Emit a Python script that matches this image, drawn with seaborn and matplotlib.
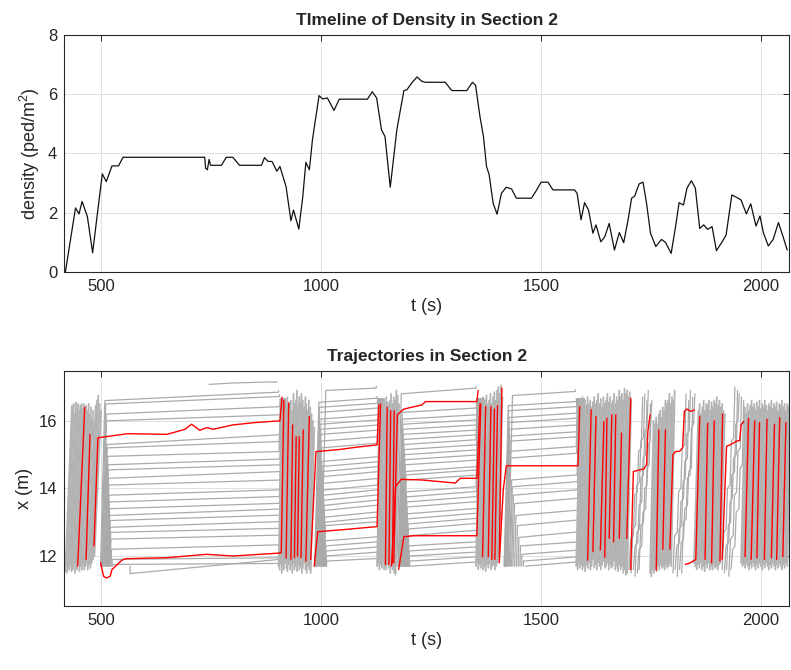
import matplotlib
matplotlib.use('Agg')
import matplotlib.pyplot as plt
import pandas as pd
import seaborn as sns

# ---- density timeline (section 2) ----
dens_t = [418, 441, 449, 456, 468, 480, 490, 502, 511, 524,
          539, 549, 735, 737, 741, 745, 748, 773, 784, 799,
          814, 864, 871, 879, 888, 899, 906, 920, 931, 937,
          949, 958, 965, 973, 980, 995, 1003, 1014, 1029, 1041,
          1105, 1116, 1126, 1137, 1145, 1157, 1172, 1188, 1195, 1207,
          1218, 1229, 1237, 1282, 1297, 1331, 1344, 1351, 1361, 1369,
          1376, 1382, 1391, 1400, 1410, 1421, 1433, 1444, 1478, 1489,
          1500, 1516, 1527, 1576, 1582, 1591, 1599, 1608, 1618, 1625,
          1636, 1645, 1655, 1667, 1678, 1688, 1698, 1706, 1713, 1723,
          1732, 1740, 1749, 1761, 1774, 1783, 1796, 1806, 1814, 1824,
          1832, 1842, 1851, 1861, 1870, 1879, 1889, 1899, 1912, 1921,
          1934, 1946, 1955, 1967, 1977, 1989, 1998, 2006, 2017, 2028,
          2040, 2051, 2060]
dens_v = [0.0, 2.16, 1.96, 2.38, 1.87, 0.65, 1.87, 3.31, 3.05, 3.58,
          3.58, 3.87, 3.87, 3.5, 3.45, 3.8, 3.6, 3.6, 3.87, 3.87,
          3.6, 3.6, 3.86, 3.73, 3.73, 3.4, 3.56, 2.88, 1.73, 2.09,
          1.45, 2.54, 3.7, 3.45, 4.46, 5.95, 5.84, 5.87, 5.45, 5.83,
          5.83, 6.08, 5.87, 4.8, 4.57, 2.86, 4.8, 6.12, 6.15, 6.4,
          6.58, 6.43, 6.4, 6.4, 6.12, 6.12, 6.4, 6.3, 5.25, 4.57,
          3.56, 3.28, 2.32, 1.95, 2.66, 2.86, 2.8, 2.49, 2.49, 2.74,
          3.03, 3.03, 2.77, 2.77, 2.66, 1.76, 2.34, 2.09, 1.31, 1.59,
          1.02, 1.19, 1.64, 0.74, 1.33, 0.99, 1.76, 2.49, 2.56, 2.97,
          3.03, 2.32, 1.31, 0.86, 1.1, 1.0, 0.63, 1.53, 2.34, 2.26,
          2.83, 3.08, 2.83, 1.47, 1.59, 1.44, 1.53, 0.72, 1.02, 1.25,
          2.6, 2.51, 2.43, 1.96, 2.3, 1.55, 1.89, 1.31, 0.88, 1.1,
          1.67, 1.17, 0.74]

# ---- trajectories ----
# pedestrians walking straight through: (t_in, x_bottom, x_top)
burst1 = [(418, 11.55, 16.45), (420, 11.7, 16.3), (422, 11.5, 16.5), (425, 11.65, 16.2),
          (427, 11.6, 16.55), (430, 11.75, 16.4), (432, 11.55, 16.5), (435, 11.6, 16.3),
          (437, 11.7, 16.45), (440, 11.5, 16.5), (442, 11.65, 16.35), (445, 11.6, 16.5),
          (448, 11.8, 16.4), (450, 11.55, 16.45), (453, 11.7, 16.3), (456, 11.6, 16.5),
          (458, 11.75, 16.2), (461, 11.6, 16.4), (464, 11.7, 16.1), (466, 11.8, 16.3),
          (469, 11.6, 16.0), (472, 11.75, 16.45), (475, 11.65, 16.6), (478, 11.8, 16.75),
          (481, 11.9, 16.5), (484, 12.0, 16.3)]
burst2 = [(903, 11.7, 16.5), (905, 11.6, 16.4), (908, 11.8, 16.6), (910, 11.5, 16.3),
          (913, 11.7, 16.5), (915, 11.6, 16.7), (918, 11.8, 16.4), (921, 11.65, 16.55),
          (923, 11.55, 16.6), (926, 11.75, 16.3), (929, 11.6, 16.8), (931, 11.7, 16.5),
          (934, 11.5, 16.6), (937, 11.8, 16.9), (939, 11.6, 16.45), (942, 11.7, 16.7),
          (945, 11.55, 16.5), (947, 11.75, 16.8), (950, 11.6, 16.6), (953, 11.7, 16.4),
          (956, 11.5, 16.7), (958, 11.65, 16.5), (961, 11.8, 16.3), (964, 11.6, 16.6),
          (967, 11.5, 16.4), (970, 11.7, 16.2), (973, 11.6, 16.0), (976, 11.5, 15.8)]
burst3 = [(1127, 11.7, 16.5), (1130, 11.8, 16.6), (1132, 11.6, 16.4), (1135, 11.75, 16.65),
          (1138, 11.65, 16.5), (1140, 11.8, 16.7), (1143, 11.6, 16.55), (1146, 11.7, 16.45),
          (1148, 11.6, 16.6), (1151, 11.75, 16.8), (1154, 11.65, 16.5), (1157, 11.5, 16.7),
          (1160, 11.7, 16.6), (1163, 11.6, 16.9), (1166, 11.5, 16.75), (1169, 11.45, 16.5)]
burst4 = [(1352, 11.7, 16.5), (1355, 11.8, 16.6), (1357, 11.6, 16.45), (1360, 11.75, 16.7),
          (1363, 11.65, 16.5), (1365, 11.8, 16.6), (1368, 11.6, 16.75), (1371, 11.7, 16.5),
          (1374, 11.55, 16.6), (1377, 11.75, 16.8), (1380, 11.65, 16.5), (1383, 11.8, 16.7),
          (1386, 11.6, 16.85), (1389, 11.7, 16.6), (1392, 11.75, 16.9), (1395, 11.6, 17.0),
          (1398, 11.7, 16.8), (1401, 11.8, 17.05), (1404, 11.9, 16.7)]
burst5 = [(1580, 11.7, 16.6), (1583, 11.6, 16.4), (1585, 11.8, 16.7), (1588, 11.65, 16.5),
          (1591, 11.75, 16.6), (1594, 11.6, 16.45), (1597, 11.7, 16.7), (1600, 11.55, 16.5),
          (1603, 11.75, 16.6), (1606, 11.65, 16.4), (1609, 11.8, 16.55), (1612, 11.6, 16.7),
          (1615, 11.7, 16.5), (1618, 11.9, 16.6), (1621, 11.65, 16.8), (1624, 11.75, 16.5),
          (1627, 11.6, 16.65), (1630, 11.8, 16.4), (1633, 11.7, 16.7), (1636, 11.6, 16.5),
          (1639, 11.75, 16.6), (1642, 11.85, 16.8), (1645, 11.65, 16.55), (1648, 11.7, 16.7),
          (1651, 11.8, 16.5), (1654, 11.6, 16.6), (1657, 11.75, 16.8), (1660, 11.65, 16.5),
          (1663, 11.7, 16.7), (1666, 11.85, 16.6), (1669, 11.6, 16.9), (1672, 11.7, 16.7),
          (1675, 11.55, 16.8), (1678, 11.75, 16.6), (1681, 11.6, 16.95), (1684, 11.7, 16.8),
          (1687, 11.5, 16.9), (1690, 11.6, 16.7), (1693, 11.45, 16.85), (1696, 11.5, 16.6)]
burst6 = [(1748, 11.5, 16.0), (1751, 11.4, 15.9), (1754, 11.6, 16.1), (1757, 11.5, 15.9),
          (1760, 11.65, 16.2), (1763, 11.55, 16.3), (1766, 11.7, 16.1), (1769, 11.6, 16.4),
          (1772, 11.75, 16.3), (1775, 11.65, 16.6), (1778, 11.7, 16.5), (1781, 11.6, 16.6),
          (1784, 11.75, 16.8), (1787, 11.65, 16.5), (1790, 11.7, 16.7), (1793, 11.8, 16.6),
          (1796, 11.7, 16.9)]
burst7 = [(1848, 11.8, 16.3), (1851, 11.7, 16.5), (1854, 11.6, 16.2), (1857, 11.75, 16.4),
          (1860, 11.65, 16.6), (1863, 11.8, 16.3), (1866, 11.6, 16.5), (1869, 11.7, 16.45),
          (1872, 11.55, 16.6), (1875, 11.75, 16.3), (1878, 11.65, 16.55), (1881, 11.8, 16.4),
          (1884, 11.6, 16.6), (1887, 11.7, 16.5), (1890, 11.6, 16.7), (1893, 11.75, 16.45),
          (1896, 11.65, 16.6), (1899, 11.7, 16.4), (1902, 11.6, 16.5), (1905, 11.75, 16.3),
          (1908, 11.8, 16.2)]
burst8 = [(1955, 11.8, 16.4), (1958, 11.7, 16.2), (1961, 11.75, 16.5), (1964, 11.65, 16.3),
          (1967, 11.8, 16.45), (1970, 11.7, 16.6), (1973, 11.6, 16.4), (1976, 11.75, 16.5),
          (1979, 11.65, 16.3), (1982, 11.8, 16.55), (1985, 11.7, 16.4), (1988, 11.6, 16.6),
          (1991, 11.75, 16.35), (1994, 11.65, 16.5), (1997, 11.8, 16.4), (2000, 11.7, 16.6),
          (2003, 11.6, 16.45), (2006, 11.75, 16.3), (2009, 11.65, 16.5), (2012, 11.8, 16.4),
          (2015, 11.7, 16.6), (2018, 11.6, 16.35), (2021, 11.75, 16.5), (2024, 11.65, 16.4),
          (2027, 11.8, 16.55), (2030, 11.7, 16.3), (2033, 11.6, 16.5), (2036, 11.75, 16.45),
          (2039, 11.65, 16.6), (2042, 11.8, 16.4), (2045, 11.7, 16.5), (2048, 11.6, 16.3),
          (2051, 11.75, 16.5), (2054, 11.65, 16.4), (2057, 11.8, 16.6), (2060, 11.7, 16.4)]
bursts = [burst1, burst2, burst3, burst4, burst5, burst6, burst7, burst8]
burst_dur = [15, 8, 8, 8, 9, 8, 10, 9]  # seconds to cross

# pedestrians waiting in the queue: (t_in, level at entry, t_out, level at exit)
queue1 = [(498, 16.6, 903, 16.85), (500, 16.5, 905, 16.72),
          (502, 16.2, 906, 16.42), (503, 16.0, 907, 16.18), (505, 15.3, 908, 15.59),
          (506, 15.2, 909, 15.39), (508, 14.95, 904, 15.09), (509, 14.7, 906, 14.87),
          (510, 14.55, 907, 14.70), (511, 14.3, 908, 14.50), (512, 14.1, 909, 14.25),
          (513, 13.8, 910, 13.96), (514, 13.6, 905, 13.76), (515, 13.4, 906, 13.56),
          (516, 13.2, 907, 13.39), (517, 13.05, 908, 13.21), (518, 12.85, 909, 13.02),
          (519, 12.7, 910, 12.82), (520, 12.5, 911, 12.62), (522, 12.2, 905, 12.33),
          (524, 11.9, 907, 11.95), (526, 11.75, 909, 11.78), (565, 11.48, 905, 11.9)]
queue2 = [(1000, 16.9, 1125, 16.97), (985, 16.55, 1127, 16.67), (986, 16.4, 1128, 16.52),
          (987, 16.25, 1129, 16.38), (988, 16.05, 1130, 16.18), (989, 15.9, 1131, 16.03),
          (990, 15.75, 1132, 15.88), (991, 15.6, 1133, 15.73), (992, 15.4, 1128, 15.53),
          (993, 15.2, 1129, 15.34), (995, 14.8, 1130, 14.94), (996, 14.65, 1131, 14.79),
          (997, 14.5, 1132, 14.65), (998, 14.35, 1133, 14.50), (999, 14.15, 1134, 14.30),
          (1000, 13.95, 1128, 14.10), (1001, 13.8, 1129, 13.96), (1002, 13.65, 1130, 13.81),
          (1003, 13.5, 1131, 13.66), (1004, 13.35, 1132, 13.51), (1005, 13.15, 1133, 13.31),
          (1006, 13.0, 1134, 13.16), (1007, 12.9, 1135, 13.02), (1008, 12.45, 1129, 12.57),
          (1009, 12.3, 1130, 12.42), (1010, 12.15, 1131, 12.27), (1011, 12.0, 1132, 12.12),
          (1012, 11.85, 1133, 11.93)]
queue3 = [(1172, 16.8, 1352, 16.97), (1175, 16.25, 1353, 16.38), (1176, 16.05, 1354, 16.18),
          (1177, 15.9, 1355, 16.03), (1178, 15.75, 1356, 15.88), (1179, 15.6, 1357, 15.73),
          (1180, 15.45, 1358, 15.59), (1181, 15.3, 1352, 15.44), (1182, 15.15, 1353, 15.29),
          (1183, 15.0, 1354, 15.14), (1184, 14.85, 1355, 14.99), (1185, 14.7, 1356, 14.84),
          (1186, 14.5, 1357, 14.65), (1187, 14.4, 1358, 14.55), (1188, 14.25, 1359, 14.40),
          (1189, 13.9, 1352, 14.05), (1190, 13.75, 1353, 13.91), (1191, 13.6, 1354, 13.76),
          (1192, 13.45, 1355, 13.61), (1193, 13.25, 1356, 13.41), (1194, 13.1, 1357, 13.27),
          (1195, 12.95, 1358, 13.12), (1196, 12.8, 1359, 12.97), (1197, 12.6, 1360, 12.77),
          (1198, 12.3, 1353, 12.42), (1199, 12.15, 1355, 12.27), (1200, 12.0, 1357, 12.12),
          (1201, 11.85, 1359, 11.98), (1203, 11.7, 1361, 11.83)]
queue4 = [(1425, 16.75, 1578, 16.87), (1416, 16.45, 1580, 16.57), (1417, 16.3, 1581, 16.42),
          (1418, 16.1, 1582, 16.23), (1419, 15.95, 1583, 16.08), (1420, 15.75, 1584, 15.88),
          (1421, 15.55, 1585, 15.68), (1422, 15.4, 1586, 15.53), (1423, 15.1, 1580, 15.24),
          (1424, 14.9, 1581, 15.04), (1428, 14.25, 1582, 14.40), (1430, 14.05, 1583, 14.20),
          (1433, 13.8, 1584, 13.96), (1436, 13.55, 1585, 13.71), (1440, 13.2, 1586, 13.36),
          (1444, 12.9, 1587, 13.07), (1448, 12.55, 1588, 12.72), (1452, 12.3, 1589, 12.42),
          (1456, 12.05, 1590, 12.18), (1460, 11.85, 1585, 11.98), (1465, 11.7, 1587, 11.83)]
queues = [queue1, queue2, queue3, queue4]
walk_speed = 0.5   # m/s when moving in/out of the queue
entry_x = 11.7
exit_x = 16.65

# stop-and-go pedestrians (staircase shaped) and other odd gray paths
gray_paths = [
    [(745, 17.08), (800, 17.12), (880, 17.15), (900, 17.15)],
    [(1700, 11.6), (1704, 12.5), (1710, 12.6), (1713, 13.8), (1719, 13.9), (1722, 15.1), (1728, 15.2), (1731, 16.7)],
    [(1705, 11.5), (1709, 12.8), (1715, 12.9), (1718, 14.1), (1724, 14.2), (1727, 15.4), (1733, 15.5), (1736, 16.8)],
    [(1710, 11.6), (1714, 12.3), (1720, 12.4), (1723, 13.5), (1729, 13.6), (1732, 14.9), (1738, 15.0), (1741, 16.6)],
    [(1714, 11.4), (1718, 12.7), (1724, 12.8), (1727, 14.3), (1733, 14.4), (1736, 15.7), (1741, 15.8), (1744, 16.9)],
    [(1719, 11.5), (1723, 12.2), (1729, 12.3), (1732, 13.3), (1738, 13.4), (1741, 14.6), (1746, 14.7), (1749, 16.5)],
    [(1723, 11.6), (1727, 12.9), (1733, 13.0), (1736, 14.0), (1741, 14.1), (1744, 15.3), (1748, 15.4), (1752, 16.6)],
    [(1800, 11.5), (1804, 12.6), (1810, 12.7), (1813, 13.9), (1818, 14.0), (1821, 15.2), (1827, 15.3), (1830, 16.8)],
    [(1805, 11.6), (1809, 12.3), (1815, 12.4), (1818, 13.6), (1824, 13.7), (1827, 14.8), (1833, 14.9), (1836, 16.6)],
    [(1810, 11.4), (1814, 12.8), (1820, 12.9), (1823, 14.2), (1828, 14.3), (1831, 15.6), (1837, 15.7), (1840, 16.9)],
    [(1815, 11.6), (1819, 12.4), (1824, 12.5), (1827, 13.4), (1833, 13.5), (1836, 14.5), (1842, 14.6), (1845, 16.7)],
    [(1820, 11.5), (1824, 13.0), (1830, 13.1), (1833, 14.3), (1839, 14.4), (1842, 15.8), (1847, 15.9), (1850, 16.8)],
    [(1912, 11.6), (1916, 12.7), (1921, 12.8), (1924, 14.0), (1930, 14.1), (1933, 15.4), (1938, 15.5), (1941, 17.0)],
    [(1917, 11.5), (1921, 12.3), (1927, 12.4), (1930, 13.6), (1935, 13.7), (1938, 14.9), (1944, 15.0), (1947, 16.9)],
    [(1922, 11.6), (1926, 12.9), (1931, 13.0), (1934, 14.4), (1940, 14.5), (1943, 15.9), (1948, 16.0), (1951, 16.8)],
    [(1927, 11.4), (1931, 12.5), (1937, 12.6), (1940, 13.8), (1945, 13.9), (1948, 15.1), (1953, 15.2), (1956, 16.7)],
    [(1932, 11.6), (1936, 12.2), (1941, 12.3), (1944, 13.3), (1950, 13.4), (1953, 14.6), (1958, 14.7), (1961, 16.6)],
]

# highlighted pedestrians (red)
red_paths = [
    [(446, 11.7), (462, 16.4)],
    [(465, 11.9), (474, 15.6)],
    [(483, 12.3), (492, 15.5), (560, 15.62), (649, 15.6), (690, 15.75), (705, 15.9), (724, 15.72),
     (739, 15.8), (754, 15.75), (799, 15.88), (850, 15.95), (906, 16.0), (911, 16.7)],
    [(498, 11.8), (505, 11.4), (511, 11.35), (520, 11.4), (524, 11.6), (547, 11.88), (555, 11.92),
     (649, 11.95), (739, 12.05), (799, 12.0), (909, 12.09), (915, 16.6)],
    [(920, 11.94), (926, 16.53)],
    [(931, 11.9), (935, 15.88)],
    [(939, 11.95), (943, 15.53)],
    [(946, 12.0), (950, 15.53)],
    [(954, 11.95), (959, 15.73)],
    [(965, 11.85), (973, 16.13)],
    [(976, 11.9), (988, 15.09), (1040, 15.15), (1080, 15.22), (1127, 15.29), (1131, 16.47)],
    [(984, 11.7), (992, 12.72), (1050, 12.78), (1127, 12.87), (1135, 16.5)],
    [(1146, 11.75), (1150, 16.4)],
    [(1154, 11.75), (1158, 16.3)],
    [(1162, 11.8), (1166, 16.3)],
    [(1165, 11.8), (1173, 16.18), (1188, 16.35), (1229, 16.47), (1237, 16.57), (1354, 16.57), (1357, 16.9)],
    [(1160, 11.7), (1169, 14.05), (1182, 14.27), (1229, 14.25), (1305, 14.16), (1316, 14.3),
     (1354, 14.3), (1361, 16.5)],
    [(1176, 11.6), (1188, 12.57), (1210, 12.6), (1354, 12.6), (1363, 16.5)],
    [(1367, 11.98), (1374, 16.42)],
    [(1380, 11.98), (1386, 16.42)],
    [(1388, 11.9), (1394, 16.35)],
    [(1395, 11.9), (1401, 16.45)],
    [(1405, 11.98), (1411, 16.97)],
    [(1405, 11.8), (1414, 13.96), (1421, 14.67), (1584, 14.67), (1588, 16.42)],
    [(1606, 11.88), (1614, 16.33)],
    [(1618, 12.13), (1625, 16.13)],
    [(1635, 12.18), (1643, 15.98)],
    [(1645, 11.96), (1650, 16.08)],
    [(1655, 12.52), (1661, 16.18)],
    [(1665, 12.42), (1670, 16.18)],
    [(1678, 12.52), (1683, 15.64)],
    [(1695, 12.52), (1704, 16.67)],
    [(1704, 11.6), (1710, 14.5), (1734, 14.58), (1740, 14.7), (1743, 15.68), (1748, 16.18)],
    [(1762, 11.58), (1768, 15.73)],
    [(1777, 12.2), (1783, 15.73)],
    [(1793, 12.2), (1800, 15.0), (1806, 15.09), (1815, 15.1), (1822, 15.2), (1826, 16.28),
     (1832, 16.35), (1840, 16.28), (1849, 16.32)],
    [(1828, 11.75), (1840, 11.8), (1852, 11.9), (1861, 16.13)],
    [(1873, 11.9), (1879, 15.93)],
    [(1888, 11.8), (1894, 16.0)],
    [(1907, 11.85), (1913, 16.2)],
    [(1912, 11.9), (1922, 15.25), (1930, 15.29), (1945, 15.4), (1952, 15.42), (1955, 15.88), (1961, 15.98)],
    [(1964, 11.98), (1972, 16.07)],
    [(1978, 11.9), (1986, 16.0)],
    [(1991, 11.95), (1997, 15.95)],
    [(2008, 11.9), (2014, 16.05)],
    [(2024, 11.95), (2031, 15.9)],
    [(2036, 11.9), (2043, 16.1)],
    [(2050, 11.98), (2057, 15.95)],
]

# build long-format tables for seaborn
burst_rows = []
pid = 0
for burst, dur in zip(bursts, burst_dur):
    for t_in, xb, xt in burst:
        burst_rows.append({'id': pid, 't': t_in, 'x': xb})
        burst_rows.append({'id': pid, 't': t_in + dur, 'x': xt})
        pid += 1
burst_df = pd.DataFrame(burst_rows)

queue_rows = []
for queue in queues:
    for t_in, l0, t_out, l1 in queue:
        top = max(exit_x, l1 + 0.05)
        pts = [(t_in, entry_x), (t_in + abs(l0 - entry_x) / walk_speed, l0),
               (t_out, l1), (t_out + (top - l1) / walk_speed, top)]
        for t, x in pts:
            queue_rows.append({'id': pid, 't': t, 'x': x})
        pid += 1
for path in gray_paths:
    for t, x in path:
        queue_rows.append({'id': pid, 't': t, 'x': x})
    pid += 1
queue_df = pd.DataFrame(queue_rows)

red_rows = []
for i, path in enumerate(red_paths):
    for t, x in path:
        red_rows.append({'id': i, 't': t, 'x': x})
red_df = pd.DataFrame(red_rows)
dens_df = pd.DataFrame({'t': dens_t, 'density': dens_v})

sns.set_style('white')
plt.rcParams['font.family'] = ['Liberation Sans', 'DejaVu Sans']
plt.rcParams['mathtext.fontset'] = 'custom'
plt.rcParams['mathtext.rm'] = 'Liberation Sans'
plt.rcParams['mathtext.default'] = 'regular'

fig = plt.figure(figsize=(7.91, 6.70), dpi=100)
ax1 = fig.add_axes([0.081, 0.594, 0.917, 0.354])
ax2 = fig.add_axes([0.081, 0.0955, 0.917, 0.351])

sns.lineplot(data=dens_df, x='t', y='density', color='#111111', linewidth=0.9, ax=ax1)

sns.lineplot(data=queue_df, x='t', y='x', units='id', estimator=None, sort=False,
             color='#aaaaaa', linewidth=0.9, ax=ax2)
sns.lineplot(data=burst_df, x='t', y='x', units='id', estimator=None, sort=False,
             color='#b3b3b3', linewidth=1.3, ax=ax2)
sns.lineplot(data=red_df, x='t', y='x', units='id', estimator=None, sort=False,
             color='#ff0000', linewidth=1.0, ax=ax2)

ax1.set_xlim(415, 2065)
ax1.set_ylim(0, 8)
ax1.set_yticks([0, 2, 4, 6, 8])
ax1.set_title('TImeline of Density in Section 2', fontsize=12.5, fontweight='bold', pad=7)
ax1.set_ylabel('density (ped/m$^2$)', fontsize=13)

ax2.set_xlim(415, 2065)
ax2.set_ylim(10.52, 17.48)
ax2.set_yticks([12, 14, 16])
ax2.set_title('Trajectories in Section 2', fontsize=12.5, fontweight='bold', pad=7)
ax2.set_ylabel('x (m)', fontsize=13)

for ax in (ax1, ax2):
    ax.set_xticks([500, 1000, 1500, 2000])
    ax.set_xlabel('t (s)', fontsize=13, labelpad=3)
    ax.grid(True, color='#dfdfdf', linewidth=0.7)
    ax.set_axisbelow(True)
    ax.tick_params(direction='in', top=True, right=True, length=4, width=0.7,
                   labelsize=12, colors='#262626', pad=5)
    for sp in ax.spines.values():
        sp.set_color('#262626')
        sp.set_linewidth(0.8)

fig.savefig('out.png', dpi=100)
